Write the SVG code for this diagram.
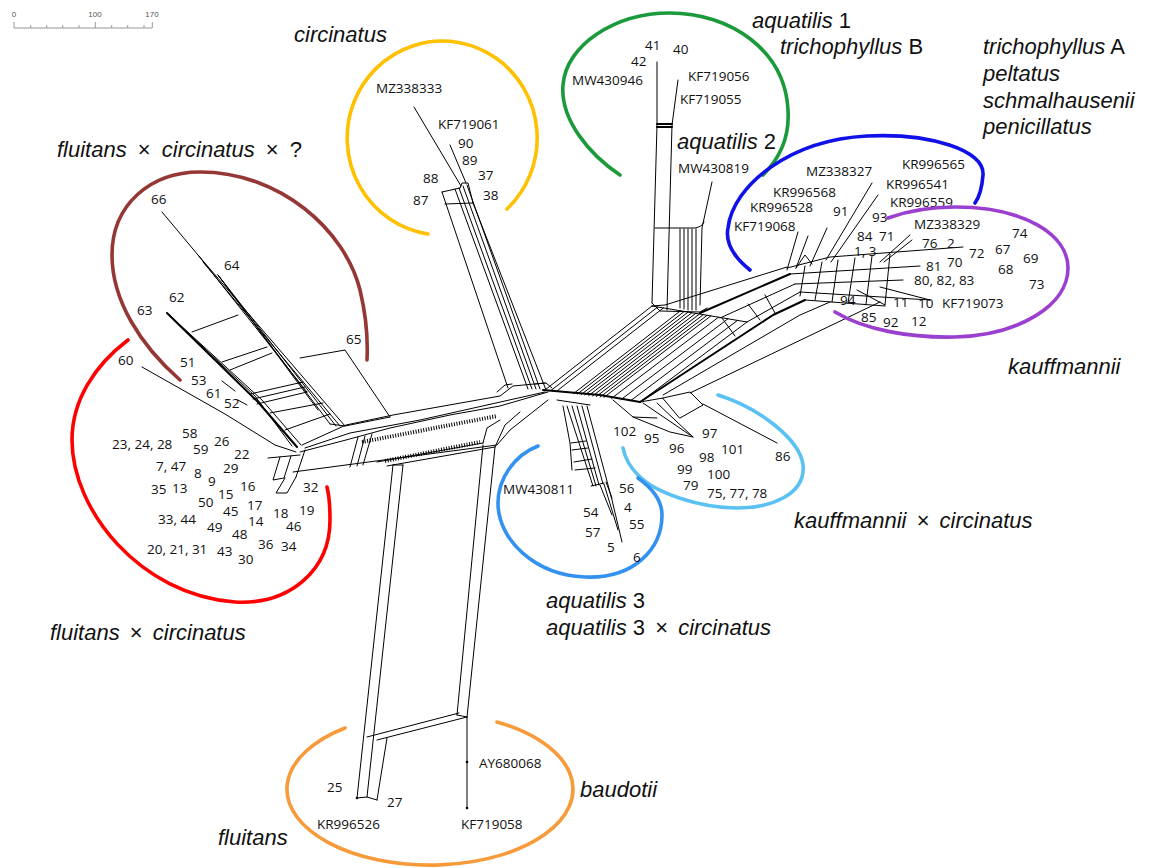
<svg xmlns="http://www.w3.org/2000/svg" width="1155" height="868" viewBox="0 0 1155 868">
<style>
.n{fill:none;stroke:#000;stroke-width:1;stroke-linejoin:round;stroke-linecap:round}
.b{stroke-width:2}
.h{fill:none;stroke:#000;stroke-width:4;stroke-dasharray:1 1.6}
.arc{fill:none;stroke-width:3.6;stroke-linecap:round}
.t{font-family:"Open Sans","Noto Sans",sans-serif;font-size:13.5px;fill:#111}
.g{font-family:"Liberation Sans",Arial,sans-serif;font-size:22px;font-style:italic;fill:#111}
.u{font-style:normal}
.s{font-family:"Liberation Sans",Arial,sans-serif;font-size:8px;fill:#555;text-anchor:middle}
</style>
<rect width="1155" height="868" fill="#fff"/>
<g id="scale">
<path d="M14,28 H152 M14,22 V28 M30.7,25 V28 M46.7,25 V28 M62.7,25 V28 M79,25 V28 M95.3,22 V28 M111.7,25 V28 M127.7,25 V28 M144,25 V28 M152.3,22 V28" fill="none" stroke="#999" stroke-width="1"/>
<text class="s" x="14" y="17">0</text><text class="s" x="95" y="17">100</text><text class="s" x="152" y="17">170</text>
</g>
<g id="connectors">
<path class="n" d="M442,192 L508,388 M455,189 L528,389 M459,188 L532,389 M463,186 L536,389 M467,185 L540,389 M473,203 L546,390 M442,192 L460,188 M445,204 L473,203 M460,188 L462,183 L468,183 L473,203 M414,107 L461,186 M450,145 L466,183 M497,392 L505,385 L512,384 M535,384 L546,383 L552,388"/>
<path class="n" d="M302,445 L346,425 L393,415 L500,396 L513,386 L545,383 M305,448 L350,433 L420,420 L545,392 M293,472 L497,445 L510,430 L548,400 M377,462 L483,443 M387,466 L495,447 M483,443 L487,428 L500,420 M495,447 L505,425 L520,412 M358,437 L350,467 M365,436 L357,466 M372,434 L363,465 M330,424 L345,426 L390,417"/>
<path class="n" d="M300,452 L346,440 L390,428 L450,415 L500,406 L548,392" stroke-width="1.6"/>
<path class="h" d="M362,442 L497,416 M385,461 L480,442"/>
<path class="n" d="M393,465 L357,798 M403,465 L367,797 M393,465 L403,465 M483,445 L457,715 M495,447 L467,717 M367,737 L459,713 M377,740 L467,717 M457,715 L467,717 M387,738 L377,800 M357,798 L367,797 L377,800 M467,717 L467,808"/>
<circle cx="467" cy="762" r="1.3"/><circle cx="467" cy="808" r="1.3"/><circle cx="357" cy="798" r="1.3"/>
<path class="n" d="M162,212 L198,255 L307,392 M198,255 L345,426 M203,262 L340,426 M218,275 L330,424 M218,275 L336,426 M218,275 L318,410 M167,313 L262,400 L301,445 M170,316 L255,396 L292,446 M192,332 L238,315 M222,362 L267,347 M230,370 L272,353 M250,394 L303,382 M253,399 L305,387 M257,404 L307,392 M270,413 L323,403 M285,430 L330,414 M300,358 L345,350 L390,417 M142,367 L225,414 L275,445 L296,452 M222,381 L235,391 M238,400 L247,405"/>
<path class="n b" d="M167,313 L258,402 L297,447"/>
<path class="n" d="M268,458 L300,455 M280,457 L273,480 L284,478 L291,456 M285,478 L276,493 L287,493 L296,477 M296,477 L305,450"/>
<path class="n" d="M657,62 L657,125 L652,303 M678,80 L672,125 L667,310 M655,228 L695,228 Q702,227 704,222 M712,182 L702,228 L700,305 M680,229 L680,308 M684,229 L684,309 M688,229 L688,310 M692,229 L692,310 M696,229 L696,310 M652,303 L660,311 L700,312 L707,308"/>
<path class="n b" d="M657,124 L672,124 M657,127 L672,127"/>
<path class="n" d="M545,390 L652,306 M550.7,390.7 L657.7,307 M556.4,391.4 L663.4,307.9 M573.5,393.6 L680.5,310.8 M577.3,394.1 L684.3,311.4 M581.1,394.6 L688.1,312.1 M584.9,395 L691.9,312.7 M588.7,395.5 L695.7,313.4 M592.5,396 L699.5,314 M596.3,396.5 L703.3,314.6 M600.1,397 L707.1,315.3 M603.9,397.4 L710.9,315.9 M611.5,398.4 L718.5,317.2 M621,399.6 L728,318.8 M630.5,400.8 L737.5,320.4 M640,402 L747,322 M652,306 L747,322"/>
<path class="n b" d="M543,390 L600,395 L640,402"/>
<path class="n" d="M652,306 L665,305 L787,267 M720,318 L795,284 M747,322 L800,292 M663,395 L800,315 L830,302 M690,393 L880,302 M735,336 L722,318 M760,320 L748,304 M775,313 L765,295"/>
<path class="n b" d="M700,313 L790,274 M640,402 L773,315 L805,300"/>
<path class="n" d="M787,268 L830,257 L963,247" stroke-width="1.6"/>
<path class="n" d="M790,274 L920,266 M795,284 L903,280 M800,292 L930,300 M805,300 L885,306 M805,266 L800,296 M822,262 L815,300 M838,260 L832,302 M855,258 L848,303 M872,256 L866,304 M890,254 L885,305 M880,287 L930,300 M857,290 L885,305 M798,232 L787,270 M808,236 L796,268 M827,228 L810,266 M872,183 L826,260 M878,195 L831,262 M910,235 L880,262 M912,240 L884,262 M796,268 L805,255 L812,264"/>
<path class="n" d="M557,400 L590,405 M563,406 L570,443 L572,470 M567,406 L593,486 M572,406 L596,486 M577,406 L599,485 M582,406 L603,484 M587,406 L612,500 L622,542 M571,443 L586,441 M572,450 L588,448 M574,462 L592,459 M575,470 L595,468 M591,486 L604,483 M600,485 L612,515 M604,484 L618,530 M606,482 L612,498"/>
<path class="n" d="M613,400 L633,417 L657,418 M643,403 L690,435 M657,403 L693,437 M633,417 L670,432 L693,437 M663,398 L690,392 L703,405 L680,418 Z M703,404 L777,443 M640,402 L663,398"/>
</g>
<g id="circinatus">
<path class="arc" stroke="#FFC000" d="M428,234 A95,97 0 1 1 507,209"/>
<text class="g" x="294" y="42">circinatus</text>
<text class="t" x="376" y="93">MZ338333</text><text class="t" x="438" y="129">KF719061</text>
<text class="t" x="458" y="148">90</text><text class="t" x="462" y="165">89</text><text class="t" x="478" y="180">37</text>
<text class="t" x="423" y="183">88</text><text class="t" x="483" y="200">38</text><text class="t" x="413" y="205">87</text>
</g>
<g id="aquatilis1">
<path class="arc" stroke="#1A9A3A" d="M620,175 C590,155 560,120 563,85 C566,45 615,13 670,13 C730,13 785,50 788,110 C790,140 778,160 763,175"/>
<text class="g" x="752" y="28">aquatilis<tspan class="u"> 1</tspan></text>
<text class="g" x="780" y="54">trichophyllus<tspan class="u"> B</tspan></text>
<text class="t" x="645" y="50">41</text><text class="t" x="673" y="54">40</text><text class="t" x="631" y="66">42</text>
<text class="t" x="572" y="85">MW430946</text><text class="t" x="688" y="81">KF719056</text><text class="t" x="680" y="104">KF719055</text>
<text class="g" x="677" y="149">aquatilis<tspan class="u"> 2</tspan></text>
<text class="t" x="678" y="173">MW430819</text>
</g>
<g id="trichophyllusA">
<path class="arc" stroke="#1010E8" d="M750,270 C735,258 725,243 728,228 C733,185 790,140 867,136 C930,133 985,150 983,175 C982,188 980,196 975,203"/>
<text class="g" x="983" y="54">trichophyllus<tspan class="u"> A</tspan></text>
<text class="g" x="983" y="81">peltatus</text><text class="g" x="983" y="108">schmalhausenii</text><text class="g" x="983" y="134">penicillatus</text>
<text class="t" x="806" y="176">MZ338327</text><text class="t" x="902" y="169">KR996565</text><text class="t" x="886" y="189">KR996541</text>
<text class="t" x="773" y="197">KR996568</text><text class="t" x="890" y="207">KR996559</text><text class="t" x="750" y="212">KR996528</text>
<text class="t" x="833" y="216">91</text><text class="t" x="872" y="222">93</text><text class="t" x="734" y="231">KF719068</text>
</g>
<g id="kauffmannii">
<path class="arc" stroke="#9B3FCF" d="M888,218 C910,210 935,207 955,207 C1025,207 1068,235 1068,268 C1068,305 1020,335 955,337 C910,338 865,330 835,312"/>
<text class="g" x="1008" y="374">kauffmannii</text>
<text class="t" x="914" y="229">MZ338329</text><text class="t" x="857" y="241">84</text><text class="t" x="879" y="241">71</text>
<text class="t" x="854" y="256">1, 3</text><text class="t" x="922" y="248">76</text><text class="t" x="947" y="248">2</text>
<text class="t" x="969" y="258">72</text><text class="t" x="947" y="267">70</text><text class="t" x="926" y="271">81</text>
<text class="t" x="914" y="285">80, 82, 83</text><text class="t" x="840" y="305">94</text><text class="t" x="893" y="307">11</text>
<text class="t" x="918" y="308">10</text><text class="t" x="942" y="308">KF719073</text><text class="t" x="861" y="322">85</text>
<text class="t" x="883" y="327">92</text><text class="t" x="911" y="326">12</text>
<text class="t" x="1012" y="238">74</text><text class="t" x="995" y="254">67</text><text class="t" x="1023" y="263">69</text>
<text class="t" x="998" y="274">68</text><text class="t" x="1029" y="289">73</text>
</g>
<g id="kauffmannii-x-circinatus">
<path class="arc" stroke="#5BC0F2" d="M718,395 C760,408 800,440 803,465 C806,495 770,508 737,508 C700,508 655,493 638,475 C630,467 625,458 623,448"/>
<text class="g" x="794" y="528">kauffmannii<tspan class="u" dx="4"> × </tspan><tspan dx="4">circinatus</tspan></text>
<text class="t" x="613" y="436">102</text><text class="t" x="644" y="443">95</text><text class="t" x="702" y="438">97</text>
<text class="t" x="669" y="453">96</text><text class="t" x="721" y="454">101</text><text class="t" x="699" y="462">98</text>
<text class="t" x="775" y="461">86</text><text class="t" x="677" y="474">99</text><text class="t" x="707" y="479">100</text>
<text class="t" x="683" y="490">79</text><text class="t" x="707" y="498">75, 77, 78</text>
</g>
<g id="aquatilis3">
<path class="arc" stroke="#3391F0" d="M538,446 C515,455 498,478 498,503 C498,540 535,575 585,577 C635,579 662,548 662,515 C662,500 652,488 638,478"/>
<text class="g" x="546" y="608">aquatilis<tspan class="u"> 3</tspan></text>
<text class="g" x="546" y="635">aquatilis<tspan class="u"> 3<tspan dx="4"> × </tspan></tspan><tspan dx="4">circinatus</tspan></text>
<text class="t" x="503" y="494">MW430811</text><text class="t" x="619" y="493">56</text><text class="t" x="583" y="517">54</text>
<text class="t" x="624" y="512">4</text><text class="t" x="629" y="529">55</text><text class="t" x="585" y="537">57</text>
<text class="t" x="607" y="552">5</text><text class="t" x="633" y="562">6</text>
</g>
<g id="fluitans-x-circinatus-x">
<path class="arc" stroke="#953735" d="M180,380 C140,345 112,300 112,255 C112,205 150,172 200,172 C280,172 345,230 360,290 C366,315 368,340 367,360"/>
<text class="g" x="57" y="157">fluitans<tspan class="u" dx="5"> × </tspan><tspan dx="5">circinatus</tspan><tspan class="u" dx="5"> × </tspan><tspan class="u" dx="5">?</tspan></text>
<text class="t" x="151" y="204">66</text><text class="t" x="224" y="270">64</text><text class="t" x="169" y="302">62</text>
<text class="t" x="137" y="315">63</text><text class="t" x="346" y="344">65</text><text class="t" x="118" y="365">60</text>
<text class="t" x="180" y="367">51</text><text class="t" x="191" y="385">53</text><text class="t" x="206" y="398">61</text>
<text class="t" x="224" y="408">52</text>
</g>
<g id="fluitans-x-circinatus">
<path class="arc" stroke="#FF0000" d="M128,340 C95,365 72,400 72,440 C72,510 140,595 235,602 C290,605 330,570 330,520 C330,505 329,495 327,487"/>
<text class="g" x="50" y="640">fluitans<tspan class="u" dx="4"> × </tspan><tspan dx="4">circinatus</tspan></text>
<text class="t" x="182" y="438">58</text><text class="t" x="112" y="449">23, 24, 28</text><text class="t" x="193" y="454">59</text>
<text class="t" x="214" y="446">26</text><text class="t" x="234" y="459">22</text><text class="t" x="156" y="471">7, 47</text>
<text class="t" x="194" y="478">8</text><text class="t" x="223" y="473">29</text><text class="t" x="208" y="486">9</text>
<text class="t" x="240" y="491">16</text><text class="t" x="151" y="494">35</text><text class="t" x="172" y="493">13</text>
<text class="t" x="218" y="499">15</text><text class="t" x="198" y="507">50</text><text class="t" x="303" y="492">32</text>
<text class="t" x="247" y="510">17</text><text class="t" x="223" y="516">45</text><text class="t" x="273" y="518">18</text>
<text class="t" x="299" y="515">19</text><text class="t" x="158" y="524">33, 44</text><text class="t" x="248" y="526">14</text>
<text class="t" x="286" y="531">46</text><text class="t" x="207" y="532">49</text><text class="t" x="232" y="539">48</text>
<text class="t" x="258" y="549">36</text><text class="t" x="281" y="551">34</text><text class="t" x="147" y="554">20, 21, 31</text>
<text class="t" x="217" y="556">43</text><text class="t" x="238" y="564">30</text>
</g>
<g id="fluitans-baudotii">
<path class="arc" stroke="#F79A3A" d="M345,728 A143,76 0 1 0 497,722"/>
<text class="g" x="580" y="797">baudotii</text><text class="g" x="218" y="845">fluitans</text>
<text class="t" x="327" y="792">25</text><text class="t" x="387" y="807">27</text><text class="t" x="317" y="829">KR996526</text>
<text class="t" x="479" y="768">AY680068</text><text class="t" x="461" y="829">KF719058</text>
</g>
</svg>
